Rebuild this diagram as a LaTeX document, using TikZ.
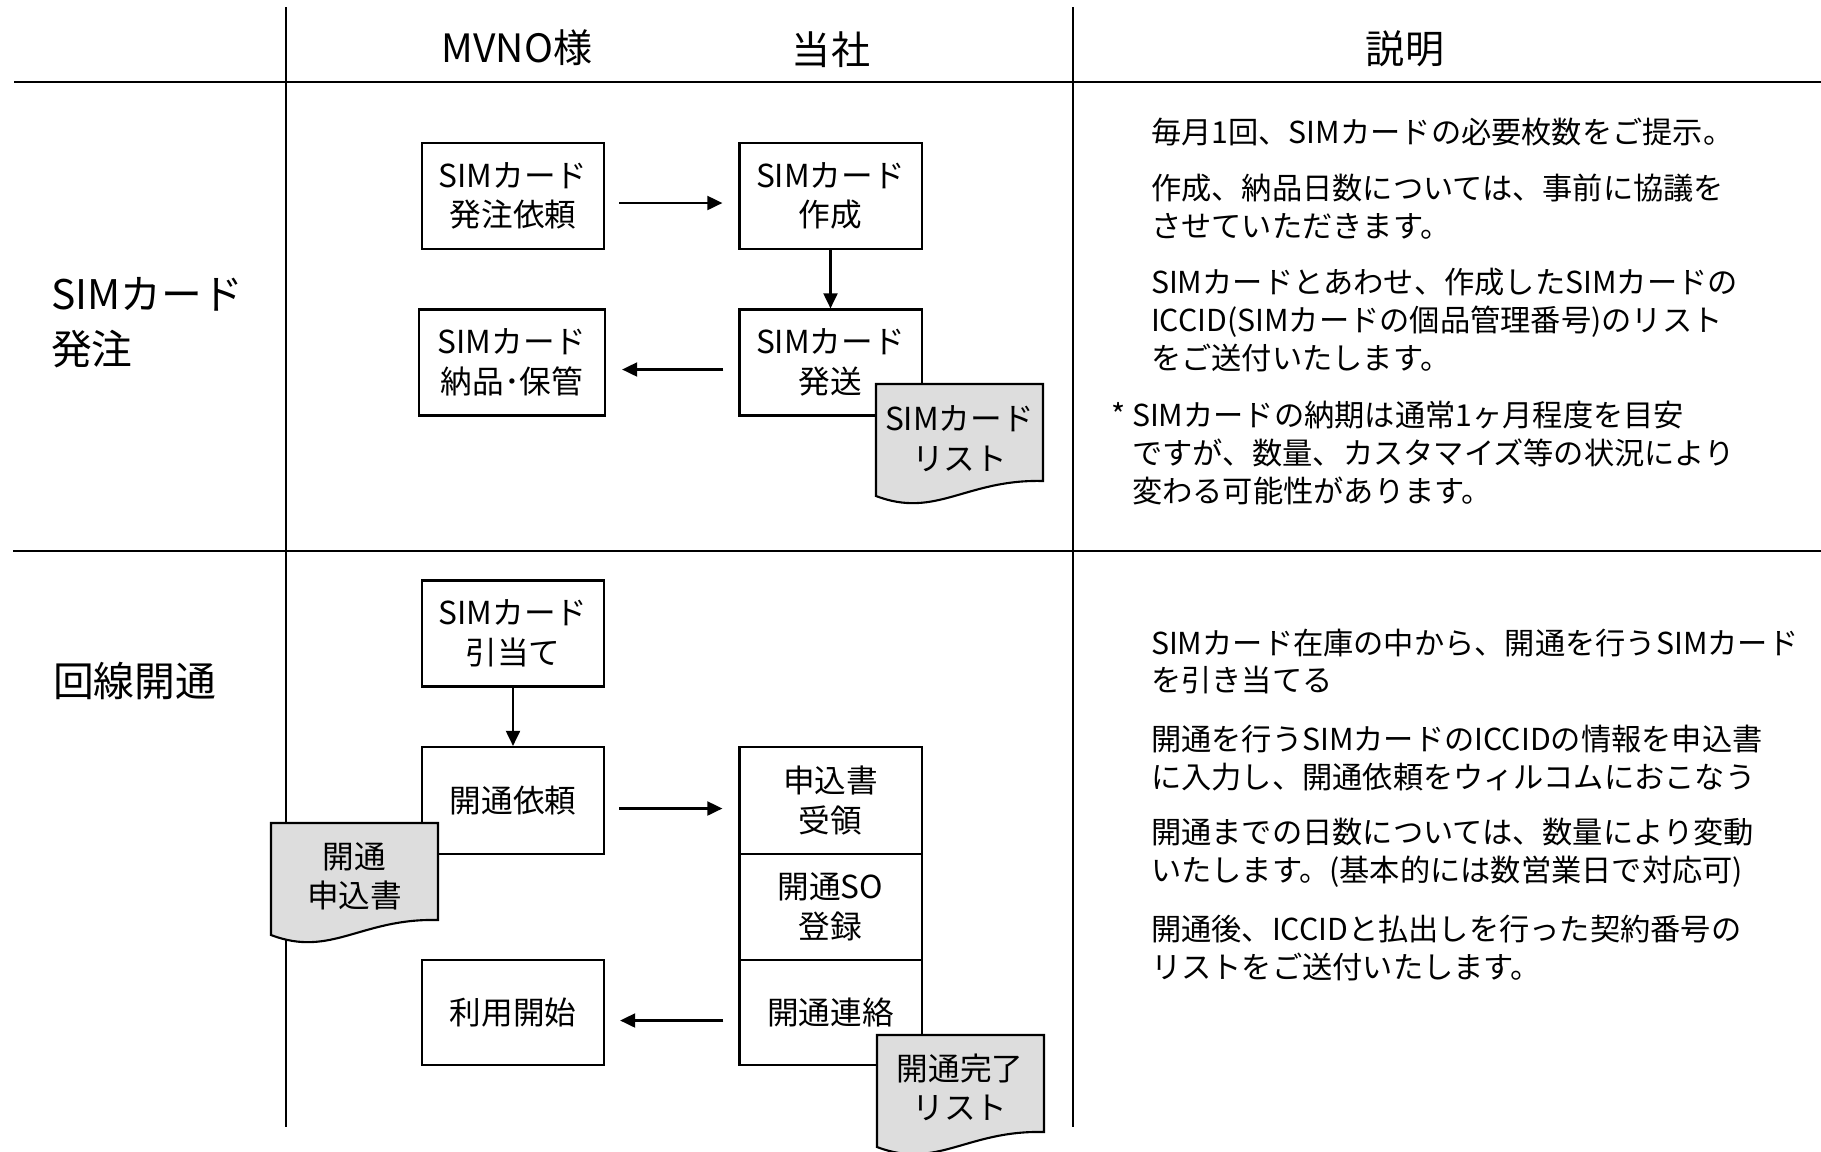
\documentclass[tikz,border=0pt]{standalone}
\usepackage{fontspec}
\setmainfont{Noto Sans CJK JP}
\usetikzlibrary{arrows.meta}
\definecolor{docgray}{RGB}{221,221,221}

\begin{document}
\begin{tikzpicture}[x=0.01cm, y=-0.01cm, line width=0.6pt,
    stepbox/.style={draw, fill=white, minimum width=1.82cm, minimum height=1.06cm, inner sep=0pt, align=center, font=\fontsize{9pt}{11.2pt}\selectfont},
    docshape/.style={draw, fill=docgray},
    doclabel/.style={align=center, inner sep=0pt, font=\fontsize{9pt}{11.2pt}\selectfont},
    flow/.style={-{Triangle[length=4.3pt, width=4pt]}},
    head/.style={inner sep=0pt, font=\fontsize{11.1pt}{13pt}\selectfont},
    rowlabel/.style={align=left, anchor=west, inner sep=0pt, font=\fontsize{11.6pt}{15.6pt}\selectfont},
    note/.style={align=left, anchor=west, inner sep=0pt, font=\fontsize{8.6pt}{10.8pt}\selectfont}]
    \useasboundingbox (0,0) rectangle (1821,1151);

    \draw (14,82) -- (1821,82);
    \draw (13,551) -- (1821,551);
    \draw (286,7) -- (286,1127);
    \draw (1073,7) -- (1073,1127);

    \node[head] (hmvno) at (517,48) {MVNO様};
    \node[head] (hours) at (831,50) {当社};
    \node[head] (hdesc) at (1405,49) {説明};

    \node[rowlabel] (rowsim) at (50,323) {SIMカード\\発注};
    \node[rowlabel] (rowopen) at (52,681) {回線開通};

    \node[stepbox] (ordreq) at (513,196) {SIMカード\\発注依頼};
    \node[stepbox] (make) at (830.5,196) {SIMカード\\作成};
    \node[stepbox] (ship) at (830.5,362.5) {SIMカード\\発送};
    \node[stepbox, minimum width=1.86cm] (store) at (512,362.5) {SIMカード\\納品･保管};
    \draw[flow, shorten <=0.14cm, shorten >=0.16cm] ([yshift=-0.07cm]ordreq.east) -- ([yshift=-0.07cm]make.west);
    \draw[flow] (make.south) -- (ship.north);
    \draw[flow, shorten <=0.15cm, shorten >=0.16cm] ([yshift=-0.07cm]ship.west) -- ([yshift=-0.07cm]store.east);
    \draw[docshape, shift={(876,384)}] (0,0) -- (167,0) -- (167,97) .. controls (90,95) and (60,135) .. (0,112) -- cycle;
    \node[doclabel] (simlist) at (959.5,438.5) {SIMカード\\リスト};

    \node[stepbox] (assign) at (513,633.5) {SIMカード\\引当て};
    \node[stepbox, minimum height=1.07cm] (openreq) at (513,800.5) {開通依頼};
    \node[stepbox, minimum height=1.07cm] (recv) at (830.5,800.5) {申込書\\受領};
    \node[stepbox] (soreg) at (830.5,907) {開通SO\\登録};
    \node[stepbox, minimum height=1.05cm] (notice) at (830.5,1012.5) {開通連絡};
    \node[stepbox, minimum height=1.05cm] (start) at (513,1012.5) {利用開始};
    \draw[flow] (assign.south) -- (openreq.north);
    \draw[flow, shorten <=0.14cm, shorten >=0.16cm] ([yshift=-0.08cm]openreq.east) -- ([yshift=-0.08cm]recv.west);
    \draw[flow, shorten <=0.15cm, shorten >=0.15cm] ([yshift=-0.08cm]notice.west) -- ([yshift=-0.08cm]start.east);
    \draw[docshape, shift={(271,823)}] (0,0) -- (167,0) -- (167,97) .. controls (90,95) and (60,135) .. (0,112) -- cycle;
    \node[doclabel] (appform) at (354.5,876.5) {開通\\申込書};
    \draw[docshape, shift={(877,1035)}] (0,0) -- (167,0) -- (167,97) .. controls (90,95) and (60,135) .. (0,112) -- cycle;
    \node[doclabel] (donelist) at (960,1087.5) {開通完了\\リスト};

    \node[note] (n1) at (1150,132) {毎月1回、SIMカードの必要枚数をご提示。};
    \node[note] (n2) at (1150,206.5) {作成、納品日数については、事前に協議を\\させていただきます。};
    \node[note] (n3) at (1150,320) {SIMカードとあわせ、作成したSIMカードの\\ICCID(SIMカードの個品管理番号)のリスト\\をご送付いたします。};
    \node[note] (n4) at (1131,453) {\llap{* }SIMカードの納期は通常1ヶ月程度を目安\\ですが、数量、カスタマイズ等の状況により\\変わる可能性があります。};
    \node[note] (n5) at (1150,661.5) {SIMカード在庫の中から、開通を行うSIMカード\\を引き当てる};
    \node[note] (n6) at (1150,758) {開通を行うSIMカードのICCIDの情報を申込書\\に入力し、開通依頼をウィルコムにおこなう};
    \node[note] (n7) at (1150,853) {開通までの日数については、数量により変動\\いたします。(基本的には数営業日で対応可)};
    \node[note] (n8) at (1150,948) {開通後、ICCIDと払出しを行った契約番号の\\リストをご送付いたします。};
\end{tikzpicture}
\end{document}
